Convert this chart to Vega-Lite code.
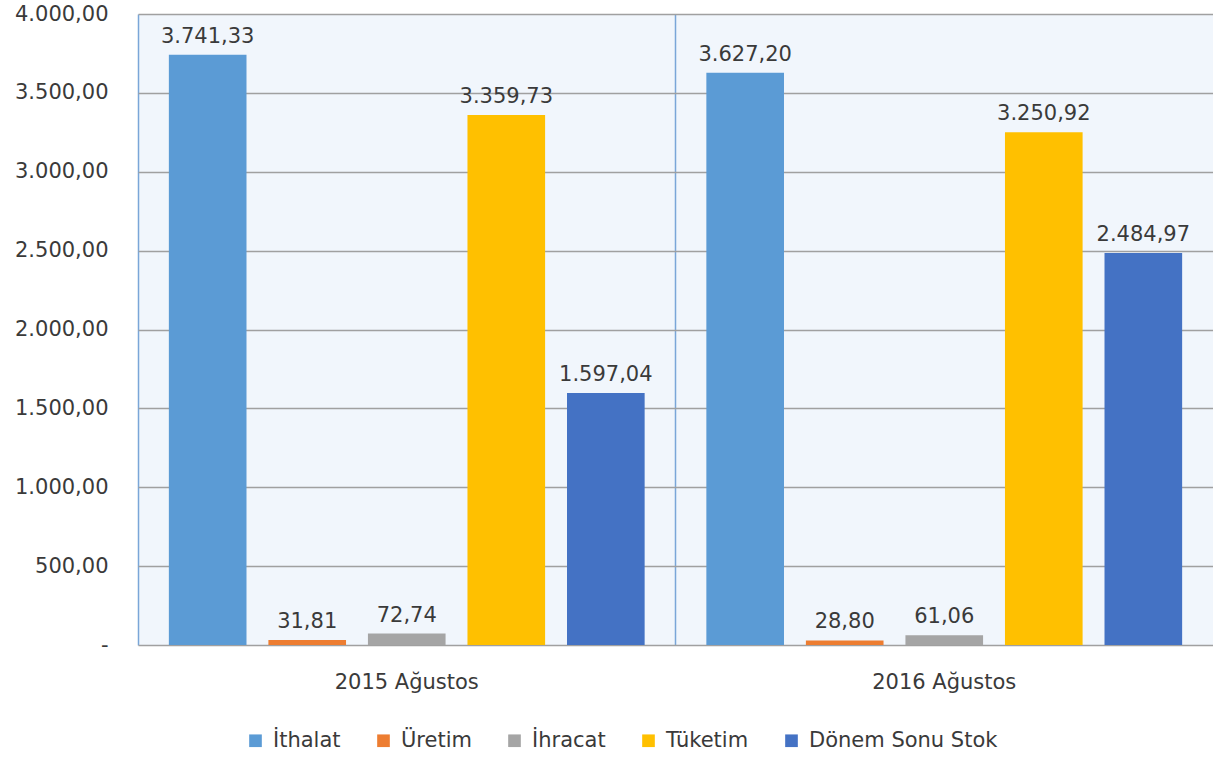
{
  "$schema": "https://vega.github.io/schema/vega-lite/v6.json",
  "width": 1075,
  "height": 631,
  "autosize": "none",
  "padding": {"left": 138, "top": 14, "right": 0, "bottom": 112},
  "background": "white",
  "config": {
    "locale": {"number": {"decimal": ",", "thousands": ".", "grouping": [3], "currency": ["", " ₺"]}},
    "view": {"stroke": null, "fill": "#f1f6fc"},
    "font": "DejaVu Sans"
  },
  "data": {
    "values": [
      {"donem": "2015 Ağustos", "kalem": "İthalat", "deger": 3741.33},
      {"donem": "2015 Ağustos", "kalem": "Üretim", "deger": 31.81},
      {"donem": "2015 Ağustos", "kalem": "İhracat", "deger": 72.74},
      {"donem": "2015 Ağustos", "kalem": "Tüketim", "deger": 3359.73},
      {"donem": "2015 Ağustos", "kalem": "Dönem Sonu Stok", "deger": 1597.04},
      {"donem": "2016 Ağustos", "kalem": "İthalat", "deger": 3627.20},
      {"donem": "2016 Ağustos", "kalem": "Üretim", "deger": 28.80},
      {"donem": "2016 Ağustos", "kalem": "İhracat", "deger": 61.06},
      {"donem": "2016 Ağustos", "kalem": "Tüketim", "deger": 3250.92},
      {"donem": "2016 Ağustos", "kalem": "Dönem Sonu Stok", "deger": 2484.97}
    ]
  },
  "encoding": {
    "x": {
      "field": "donem", "type": "nominal",
      "sort": ["2015 Ağustos", "2016 Ağustos"],
      "scale": {"paddingInner": 0, "paddingOuter": 0},
      "axis": {
        "title": null, "labelAngle": 0, "domain": false, "ticks": false,
        "grid": true, "bandPosition": 0, "gridColor": "#7aa6d8", "gridWidth": 1.5,
        "labelFontSize": 21, "labelColor": "#3a3a3a", "labelPadding": 26
      }
    },
    "xOffset": {
      "field": "kalem", "type": "nominal",
      "sort": ["İthalat", "Üretim", "İhracat", "Tüketim", "Dönem Sonu Stok"],
      "scale": {"paddingInner": 0.22, "paddingOuter": 0.31}
    },
    "y": {
      "field": "deger", "type": "quantitative",
      "scale": {"domain": [0, 4000]},
      "axis": {
        "title": null, "values": [0, 500, 1000, 1500, 2000, 2500, 3000, 3500, 4000],
        "format": ",.2f", "labelExpr": "datum.value == 0 ? '-' : datum.label",
        "labelOverlap": false, "labelBound": false, "labelFlush": false,
        "domain": false, "ticks": false, "gridColor": "#a0a0a0", "gridWidth": 1.5,
        "labelFontSize": 21, "labelColor": "#3a3a3a", "labelPadding": 30
      }
    }
  },
  "layer": [
    {
      "mark": {"type": "bar"},
      "encoding": {
        "color": {
          "field": "kalem", "type": "nominal",
          "sort": ["İthalat", "Üretim", "İhracat", "Tüketim", "Dönem Sonu Stok"],
          "scale": {
            "domain": ["İthalat", "Üretim", "İhracat", "Tüketim", "Dönem Sonu Stok"],
            "range": ["#5b9bd5", "#ed7d31", "#a5a5a5", "#ffc000", "#4472c4"]
          },
          "legend": {
            "title": null, "orient": "none", "direction": "horizontal",
            "legendX": 107, "legendY": 716,
            "symbolType": "square", "symbolSize": 160, "symbolStrokeWidth": 0,
            "labelFontSize": 21, "labelColor": "#3a3a3a", "columnPadding": 32,
            "labelOffset": 7, "labelLimit": 400
          }
        }
      }
    },
    {
      "mark": {"type": "text", "baseline": "bottom", "dy": -8, "fontSize": 21, "color": "#3a3a3a"},
      "encoding": {
        "text": {"field": "deger", "type": "quantitative", "format": ",.2f"}
      }
    }
  ]
}
